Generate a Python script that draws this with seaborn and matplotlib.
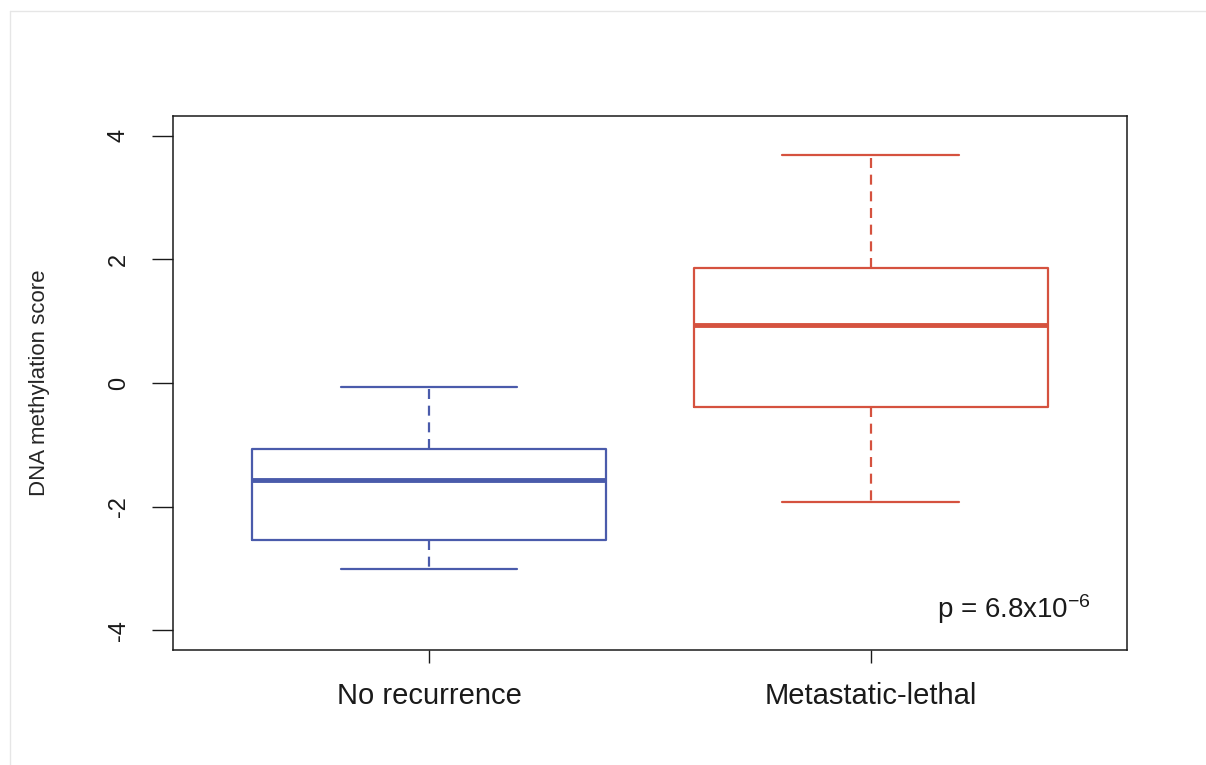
import matplotlib
matplotlib.use("Agg")
import matplotlib.pyplot as plt
from matplotlib.lines import Line2D
import seaborn as sns
import pandas as pd

# five-number summaries (min, Q1, median, Q3, max)
groups = ["No recurrence", "Metastatic-lethal"]
no_recurrence = [-3.01, -2.54, -1.57, -1.07, -0.06]
metastatic_lethal = [-1.93, -0.39, 0.94, 1.86, 3.69]
colors = ["#4a5bab", "#d5523f"]
y_ticks = [-4, -2, 0, 2, 4]
p_text = r"p = 6.8x10$^{-6}$"

df = pd.DataFrame({
    "group": [groups[0]] * len(no_recurrence) + [groups[1]] * len(metastatic_lethal),
    "score": no_recurrence + metastatic_lethal,
})

sns.set_style("white")
plt.rcParams["font.family"] = ["Liberation Sans", "DejaVu Sans"]
plt.rcParams["mathtext.default"] = "regular"

fig = plt.figure(figsize=(12.06, 7.65), dpi=100)
ax = fig.add_axes([0.1434, 0.1503, 0.7911, 0.6981])

sns.boxplot(data=df, x="group", y="score", hue="group", order=groups,
            palette=colors, fill=False, width=0.8, whis=1.5, linewidth=1.6,
            legend=False, ax=ax,
            whiskerprops={"linestyle": (0, (4.5, 3))},
            medianprops={"linewidth": 3.5},
            showfliers=False)

ax.set_xlim(-0.58, 1.58)
ax.set_ylim(-4.32, 4.32)
ax.set_yticks(y_ticks)
ax.set_yticklabels([str(v) for v in y_ticks])
ax.set_xlabel("")
ax.set_ylabel("DNA methylation score", fontsize=16, labelpad=42,
              family=["Liberation Sans Narrow", "Liberation Sans", "DejaVu Sans"])

ax.tick_params(axis="y", direction="out", length=15, width=1.0, pad=16,
               labelsize=17, labelrotation=90, left=True, colors="#1a1a1a")
ax.tick_params(axis="x", direction="out", length=9, width=1.0, pad=14,
               labelsize=21, bottom=True, colors="#1a1a1a")
for lab in ax.get_yticklabels():
    lab.set_va("center")

for s in ax.spines.values():
    s.set_color("#1a1a1a")
    s.set_linewidth(1.1)

ax.text(0.962, 0.06, p_text, transform=ax.transAxes, ha="right", va="baseline",
        fontsize=20, color="#1a1a1a")

# faint page border of the source scan
fig.add_artist(Line2D([0.008, 1.0], [0.986, 0.986], color="#e6e6e6", lw=1.0,
                      transform=fig.transFigure))
fig.add_artist(Line2D([0.008, 0.008], [0.0, 0.986], color="#e6e6e6", lw=1.0,
                      transform=fig.transFigure))

fig.savefig("out.png", dpi=100)
